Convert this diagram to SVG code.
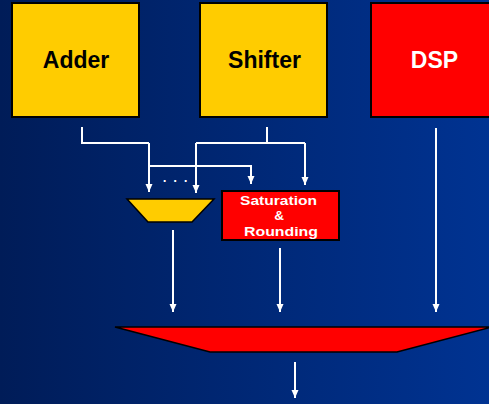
<svg xmlns="http://www.w3.org/2000/svg" width="489" height="404" viewBox="0 0 489 404">
<defs>
<linearGradient id="bg" x1="0" y1="0" x2="1" y2="0">
<stop offset="0" stop-color="#001c58"/>
<stop offset="1" stop-color="#003392"/>
</linearGradient>
<marker id="ah" markerUnits="userSpaceOnUse" markerWidth="9" markerHeight="8" refX="8" refY="3.5" orient="auto">
<path d="M0,0 L8,3.5 L0,7 z" fill="#ffffff"/>
</marker>
<style>
.box{stroke:#000;stroke-width:2}
.yel{fill:#ffcc00}
.red{fill:#ff0000}
.big{font-family:"Liberation Sans",Arial,sans-serif;font-weight:bold;font-size:23px;text-anchor:middle}
.small{font-family:"Liberation Sans",Arial,sans-serif;font-weight:bold;font-size:13.5px;text-anchor:middle;fill:#fff}
.wire{fill:none;stroke:#fff;stroke-width:2}
.arr{fill:none;stroke:#fff;stroke-width:2;marker-end:url(#ah)}
</style>
</defs>
<rect x="0" y="0" width="489" height="404" fill="url(#bg)"/>
<g id="adder">
<rect class="box yel" x="12" y="3" width="127" height="114"/>
<text class="big" x="76" y="68" fill="#000">Adder</text>
</g>
<g id="shifter">
<rect class="box yel" x="200" y="3" width="127" height="114"/>
<text class="big" x="264.5" y="68" fill="#000">Shifter</text>
</g>
<g id="dsp">
<rect class="box red" x="371" y="3" width="130" height="114"/>
<text class="big" x="434.5" y="68" fill="#fff">DSP</text>
</g>
<g id="mux">
<polygon class="yel" points="127,199 214,199 192,222 148,222" stroke="#000" stroke-width="1.5"/>
</g>
<g id="saturation">
<rect class="box red" x="222" y="191" width="117" height="49"/>
<text class="small" x="278.5" y="204.5" textLength="77" lengthAdjust="spacingAndGlyphs">Saturation</text>
<text class="small" x="279" y="220">&amp;</text>
<text class="small" x="281" y="235.5" textLength="74" lengthAdjust="spacingAndGlyphs">Rounding</text>
</g>
<g id="combiner">
<polygon class="red" points="115,327 492,327 397,352 210,352" stroke="#000" stroke-width="1.5"/>
</g>
<g id="connectors">
<path class="wire" d="M82 127 V143 H149"/>
<path class="arr" d="M149 143 V192"/>
<path class="arr" d="M149 166 H251 V184"/>
<path class="wire" d="M267 127 V143"/>
<path class="wire" d="M196 143 H305"/>
<path class="arr" d="M196 143 V193"/>
<path class="arr" d="M305 143 V185"/>
<text x="162" y="181.5" font-family="Liberation Sans, Arial, sans-serif" font-size="19" fill="#fff">. . .</text>
<path class="arr" d="M173 230 V312"/>
<path class="arr" d="M280 248 V312"/>
<path class="arr" d="M436 128 V312"/>
<path class="arr" d="M295 362 V398"/>
</g>
</svg>
